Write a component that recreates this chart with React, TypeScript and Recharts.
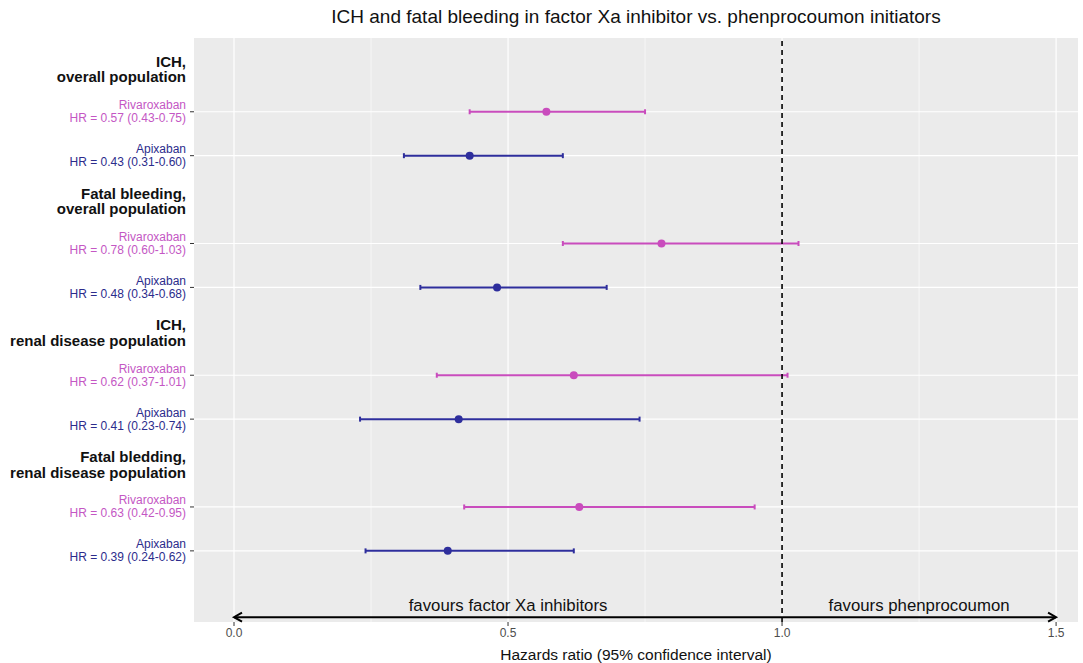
import React from 'react';
import {
  ScatterChart,
  Scatter,
  XAxis,
  YAxis,
  CartesianGrid,
  ErrorBar,
  ReferenceLine,
  ReferenceDot,
} from 'recharts';

// ---------- data ----------
const chartTitle = 'ICH and fatal bleeding in factor Xa inhibitor vs. phenprocoumon initiators';
const xAxisTitle = 'Hazards ratio (95% confidence interval)';
const drugs = ['Rivaroxaban', 'Apixaban'];
const groupHeaders = [
  ['ICH,', 'overall population'],
  ['Fatal bleeding,', 'overall population'],
  ['ICH,', 'renal disease population'],
  ['Fatal bledding,', 'renal disease population'],
];
const rivHR = [0.57, 0.78, 0.62, 0.63];
const rivLow = [0.43, 0.6, 0.37, 0.42];
const rivHigh = [0.75, 1.03, 1.01, 0.95];
const apiHR = [0.43, 0.48, 0.41, 0.39];
const apiLow = [0.31, 0.34, 0.23, 0.24];
const apiHigh = [0.6, 0.68, 0.74, 0.62];
const xTicks = [0, 0.5, 1, 1.5];
const xTickLabels = ['0.0', '0.5', '1.0', '1.5'];
const xMinorTicks = [0.25, 0.75, 1.25];
const nullValue = 1;
const arrowRange = [0, 1.5];
const favourLabels = ['favours factor Xa inhibitors', 'favours phenprocoumon'];
const favourX = [0.5, 1.25];

// ---------- derived ----------
const rowsPerGroup = 3;
const ARROW_ROW = 11.51;
const FAVOUR_ROW = 11.24;
const rivData = rivHR.map((hr, g) => ({
  x: hr,
  y: rowsPerGroup * g,
  err: [hr - rivLow[g], rivHigh[g] - hr],
}));
const apiData = apiHR.map((hr, g) => ({
  x: hr,
  y: rowsPerGroup * g + 1,
  err: [hr - apiLow[g], apiHigh[g] - hr],
}));
const yTicks: number[] = [];
for (let v = -1; v <= rowsPerGroup * groupHeaders.length - 2; v++) yTicks.push(v);
const dataRows = [...rivData.map((d) => d.y), ...apiData.map((d) => d.y)];

const PINK = '#c94cbd';
const BLUE = '#2e2e9c';
const PINK_TEXT = '#c457c4';
const BLUE_TEXT = '#2c2c8c';
const FONT = '"Liberation Sans", Arial, Helvetica, sans-serif';

const fmt = (v: number) => v.toFixed(2);

const YTick = (props: any) => {
  const { x, y, payload } = props;
  const v = Math.round(payload.value);
  const g = Math.floor((v + 1) / rowsPerGroup);
  const r = v - rowsPerGroup * g;
  if (r === -1) {
    const lines = groupHeaders[g];
    return (
      <g>
        <text x={x - 8} y={y - 1} textAnchor="end" fontSize={15} fontWeight="bold" fill="#111" fontFamily={FONT}>
          {lines[0]}
        </text>
        <text x={x - 8} y={y + 14.5} textAnchor="end" fontSize={15} fontWeight="bold" fill="#111" fontFamily={FONT}>
          {lines[1]}
        </text>
      </g>
    );
  }
  const isRiv = r === 0;
  const hr = isRiv ? rivHR[g] : apiHR[g];
  const lo = isRiv ? rivLow[g] : apiLow[g];
  const hi = isRiv ? rivHigh[g] : apiHigh[g];
  const color = isRiv ? PINK_TEXT : BLUE_TEXT;
  return (
    <g>
      <line x1={x - 4} x2={x} y1={y} y2={y} stroke="#333" strokeWidth={1} />
      <text x={x - 8} y={y - 2.5} textAnchor="end" fontSize={12} fill={color} fontFamily={FONT}>
        {drugs[isRiv ? 0 : 1]}
      </text>
      <text x={x - 8} y={y + 10.5} textAnchor="end" fontSize={12} fill={color} fontFamily={FONT}>
        {`HR = ${fmt(hr)} (${fmt(lo)}-${fmt(hi)})`}
      </text>
    </g>
  );
};

const XTick = (props: any) => {
  const { x, y, payload } = props;
  const i = xTicks.indexOf(payload.value);
  return (
    <text x={x} y={y} dy="0.71em" textAnchor="middle" fontSize={12} fill="#4d4d4d" fontFamily={FONT}>
      {i >= 0 ? xTickLabels[i] : payload.value}
    </text>
  );
};

const ArrowShape = (props: any) => {
  const { x1, y1, x2, y2 } = props;
  const h = 8;
  const w = 4.5;
  return (
    <g>
      <line x1={x1} y1={y1} x2={x2} y2={y2} stroke="#000" strokeWidth={2} />
      <path d={`M${x1 + h},${y1 - w} L${x1},${y1} L${x1 + h},${y1 + w}`} fill="none" stroke="#000" strokeWidth={2} />
      <path d={`M${x2 - h},${y2 - w} L${x2},${y2} L${x2 - h},${y2 + w}`} fill="none" stroke="#000" strokeWidth={2} />
    </g>
  );
};

const Dot = (color: string) => (p: any) => <circle cx={p.cx} cy={p.cy} r={4} fill={color} />;

export default function App() {
  return (
    <div style={{ position: 'absolute', left: 0, top: 0, width: 1083, height: 663, background: '#fff', fontFamily: FONT }}>
      <div
        style={{
          position: 'absolute',
          left: 194,
          width: 884,
          top: 5,
          textAlign: 'center',
          fontSize: 19,
          lineHeight: '24px',
          color: '#111',
          fontFamily: FONT,
        }}
      >
        {chartTitle}
      </div>
      <ScatterChart width={1083} height={663} margin={{ top: 38, right: 5, bottom: 0, left: 0 }} style={{ fontFamily: FONT }}>
        <CartesianGrid
          fill="#ebebeb"
          stroke="#ffffff"
          strokeWidth={1.2}
          verticalValues={xTicks}
          horizontalValues={dataRows}
        />
        <CartesianGrid stroke="#ffffff" strokeWidth={0.6} horizontal={false} verticalValues={xMinorTicks} />
        <XAxis
          type="number"
          dataKey="x"
          domain={[-0.073, 1.54]}
          allowDataOverflow
          ticks={xTicks}
          tick={<XTick />}
          tickSize={4}
          tickMargin={2}
          tickLine={{ stroke: '#333' }}
          axisLine={false}
          height={41}
          interval={0}
          label={{ value: xAxisTitle, position: 'insideBottom', offset: 3, fill: '#111', fontSize: 15.5 }}
        />
        <YAxis
          type="number"
          dataKey="y"
          reversed
          domain={[-1.68, 11.62]}
          allowDataOverflow
          ticks={yTicks}
          interval={0}
          tick={<YTick />}
          tickLine={false}
          tickSize={0}
          tickMargin={0}
          axisLine={false}
          width={194}
        />
        <Scatter data={rivData} isAnimationActive={false} shape={Dot(PINK)} fill={PINK}>
          <ErrorBar dataKey="err" direction="x" width={2.5} stroke={PINK} strokeWidth={2} isAnimationActive={false} />
        </Scatter>
        <Scatter data={apiData} isAnimationActive={false} shape={Dot(BLUE)} fill={BLUE}>
          <ErrorBar dataKey="err" direction="x" width={2.5} stroke={BLUE} strokeWidth={2} isAnimationActive={false} />
        </Scatter>
        <ReferenceLine x={nullValue} stroke="#000" strokeWidth={1.6} strokeDasharray="5 4" />
        <ReferenceLine
          segment={[
            { x: arrowRange[0], y: ARROW_ROW },
            { x: arrowRange[1], y: ARROW_ROW },
          ]}
          shape={ArrowShape}
        />
        {favourLabels.map((t, i) => (
          <ReferenceDot
            key={t}
            x={favourX[i]}
            y={FAVOUR_ROW}
            r={0}
            stroke="none"
            fill="none"
            label={{ value: t, position: 'center', fill: '#111', fontSize: 16.8 }}
          />
        ))}
      </ScatterChart>
    </div>
  );
}
